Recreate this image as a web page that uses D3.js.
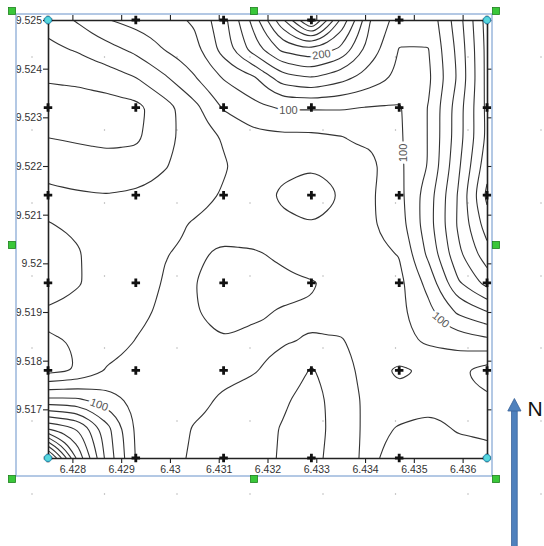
<!DOCTYPE html>
<html>
<head>
<meta charset="utf-8">
<script src="https://cdn.jsdelivr.net/npm/d3@7"></script>
<style>
  body { margin: 0; background: #fff; }
  svg { display: block; }
</style>
</head>
<body>
<div id="chart"></div>
<script>
// Grid nodes (easting / northing) of the gridded surface
const gridX = [6.4275, 6.4281, 6.4287, 6.4293, 6.4299, 6.4305, 6.4311, 6.4317,
               6.4323, 6.4329, 6.4335, 6.4341, 6.4347, 6.4353, 6.4359, 6.4365];
const gridY = [9.5250, 9.5244, 9.5238, 9.5232, 9.5226, 9.5220, 9.5214, 9.5208,
               9.5202, 9.5196, 9.5190, 9.5184, 9.5178, 9.5172, 9.5166, 9.5160];

// Surface values, one row per northing (top row first)
const gridValues = [
  [48, 62, 79, 87, 92, 103, 133, 186, 255, 330, 237, 161, 130, 126, 170, 228],
  [35, 42, 53, 65, 81, 93, 128, 168, 205, 217, 196, 151, 119, 119.5, 165, 226],
  [22, 24, 29, 39, 57, 78, 101, 115, 150, 159, 146, 130, 115, 116, 162, 226],
  [10, 10, 11, 14, 32, 54, 82, 94, 102, 102, 102, 99, 98, 121, 170, 225],
  [19.5, 17, 15, 16, 35, 48, 62, 74, 76, 76, 79.5, 84, 97, 121, 170, 224],
  [34, 30, 27, 29, 39, 48, 58, 70, 75, 78.5, 76, 74, 96, 121, 175, 232],
  [44, 42, 40.5, 43, 46, 52, 62, 70, 83, 88, 79.5, 77, 94, 131, 181, 245],
  [39.5, 42, 44, 48, 54, 62, 68, 70, 76, 79.5, 76, 77, 91, 132, 182, 230],
  [34, 39, 46, 53, 59.5, 63, 57, 58, 63, 72, 72, 74, 81, 125, 175, 212],
  [33, 39, 45, 54, 61, 60.5, 52, 54, 56, 58.5, 66, 70, 74, 107, 157, 187],
  [42, 44, 49, 56, 63, 61, 55, 58, 61, 62, 67, 72, 75, 94, 123, 139],
  [39, 40.6, 52, 60.5, 66, 64, 61, 63, 61, 59, 58.5, 68, 74, 83, 88, 94],
  [33, 41, 61.5, 66, 68, 66, 64, 61, 56, 38, 53, 67, 57, 63, 64, 52],
  [104, 103, 89, 74, 68, 64, 58, 55, 44, 30, 52, 64, 66, 65, 64, 63],
  [199, 182, 128, 77, 67, 59, 56, 50, 38.5, 28, 52, 64, 59, 56, 61, 62],
  [335, 215, 134, 79, 65, 58, 55, 48, 38, 30, 55, 63, 54, 52, 55, 57]
];

// Contour levels (interval 20)
const levels = [20, 40, 60, 80, 100, 120, 140, 160, 180, 200, 220, 240, 260, 280, 300, 320];

// Sample locations (+)
const sampleX = [6.4275, 6.4293, 6.4311, 6.4329, 6.4347, 6.4365];
const sampleY = [9.5250, 9.5232, 9.5214, 9.5196, 9.5178, 9.5160];

// Tick labels
const xTicks = [6.428, 6.429, 6.430, 6.431, 6.432, 6.433, 6.434, 6.435, 6.436];
const yTicks = [9.517, 9.518, 9.519, 9.520, 9.521, 9.522, 9.523, 9.524, 9.525];

// Where the contour labels sit
const contourLabels = [
  { level: 200, at: [6.43313, 9.52422], angle: -8 },
  { level: 100, at: [6.43243, 9.52315], angle: 0 },
  { level: 100, at: [6.43477, 9.52227], angle: -90 },
  { level: 100, at: [6.43560, 9.51888], angle: 40 },
  { level: 100, at: [6.42851, 9.51701], angle: 20 }
];

const width = 544;
const height = 546;
const plot = { left: 48, right: 487, top: 20, bottom: 458 };

const svg = d3.select("#chart")
    .append("svg")
    .attr("width", width)
    .attr("height", height);

svg.append("rect")
    .attr("width", width)
    .attr("height", height)
    .attr("fill", "white");

// page grid dots (slide background)
const dotCols = [32, 104.5, 177, 250, 323, 395.5, 468, 541];
const dotRows = [57, 130, 203, 276, 348, 421, 494];
const dots = svg.append("g");
dotCols.forEach(cx => dotRows.forEach(cy => {
    dots.append("rect")
        .attr("x", cx - 0.6).attr("y", cy - 0.6)
        .attr("width", 1.2).attr("height", 1.2)
        .attr("fill", "#a8a8a8");
}));

// Scales
const x = d3.scaleLinear().domain([6.4275, 6.4365]).range([plot.left, plot.right]);
const y = d3.scaleLinear().domain([9.516, 9.525]).range([plot.bottom, plot.top]);

const n = gridX.length, m = gridY.length;
const colToX = d3.scaleLinear().domain([0.5, n - 0.5]).range([gridX[0], gridX[n - 1]]);
const rowToY = d3.scaleLinear().domain([0.5, m - 0.5]).range([gridY[0], gridY[m - 1]]);
const toPx = p => [x(colToX(p[0])), y(rowToY(p[1]))];
const onBorder = p => p[0] < 0.25 || p[0] > n - 0.25 || p[1] < 0.25 || p[1] > m - 0.25;
const clamp = (v, lo, hi) => Math.max(lo, Math.min(hi, v));

// Add the mid-cell point of the bilinear isoline between two marching-squares vertices
function refine(pts, level, closed) {
    const out = [];
    const segs = closed ? pts.length : pts.length - 1;
    for (let k = 0; k < segs; k++) {
        const p = pts[k], q = pts[(k + 1) % pts.length];
        out.push(p);
        const i = clamp(Math.floor((p[0] + q[0]) / 2 - 0.5), 0, n - 2);
        const j = clamp(Math.floor((p[1] + q[1]) / 2 - 0.5), 0, m - 2);
        const a = gridValues[j][i], b = gridValues[j][i + 1];
        const c = gridValues[j + 1][i], d = gridValues[j + 1][i + 1];
        const dx = q[0] - p[0], dy = q[1] - p[1];
        const len = Math.hypot(dx, dy);
        if (len < 0.05) continue;
        const nx = -dy / len, ny = dx / len;
        let u = p[0] + dx / 2, v = p[1] + dy / 2;
        for (let it = 0; it < 5; it++) {
            const s = u - 0.5 - i, t = v - 0.5 - j;
            const f = a * (1 - s) * (1 - t) + b * s * (1 - t) + c * (1 - s) * t + d * s * t;
            const fu = (b - a) * (1 - t) + (d - c) * t;
            const fv = (c - a) * (1 - s) + (d - b) * s;
            const g = fu * nx + fv * ny;
            if (Math.abs(g) < 1e-9) break;
            const step = clamp((level - f) / g, -0.4, 0.4);
            u += step * nx; v += step * ny;
        }
        out.push([u, v]);
    }
    if (!closed) out.push(pts[pts.length - 1]);
    return out;
}

// drop vertices that sit almost on top of the previous one
function thin(pts, closed) {
    const out = [];
    pts.forEach((p, i) => {
        const last = out[out.length - 1];
        const isEnd = !closed && i === pts.length - 1;
        if (!last || Math.hypot(p[0] - last[0], p[1] - last[1]) > 1.5) out.push(p);
        else if (isEnd) out[out.length - 1] = p;
    });
    return out;
}

// Contour bands -> isolines (drop the parts that run along the grid border)
const bands = d3.contours().size([n, m]).thresholds(levels)(gridValues.flat());
const isolines = [];
bands.forEach(band => {
    band.coordinates.forEach(polygon => polygon.forEach(ring => {
        const pts = ring.slice(0, -1);
        const start = pts.findIndex(onBorder);
        if (start < 0) {
            const line = refine(pts, band.value, true).map(toPx);
            isolines.push({ value: band.value, closed: true, points: thin(line, true) });
            return;
        }
        let run = [];
        for (let k = 0; k <= pts.length; k++) {
            const p = pts[(start + k) % pts.length];
            if (onBorder(p)) {
                if (run.length > 1) {
                    const line = refine(run, band.value, false).map(toPx);
                    isolines.push({ value: band.value, closed: false, points: thin(line, false) });
                }
                run = [];
            } else {
                run.push(p);
            }
        }
    }));
});

svg.append("clipPath").attr("id", "plotClip")
    .append("rect")
    .attr("x", plot.left).attr("y", plot.top)
    .attr("width", plot.right - plot.left).attr("height", plot.bottom - plot.top);

const smoothOpen = d3.line().curve(d3.curveBasis);
const smoothClosed = d3.line().curve(d3.curveBasisClosed);

svg.append("g")
    .attr("clip-path", "url(#plotClip)")
    .selectAll("path")
    .data(isolines)
    .join("path")
    .attr("d", d => d.closed ? smoothClosed(d.points) : smoothOpen(d.points))
    .attr("fill", "none")
    .attr("stroke", "#333")
    .attr("stroke-width", 1.1);

// Contour labels, snapped onto their line
function nearestOnLevel(level, target) {
    let best = null, bestD = Infinity;
    isolines.filter(l => l.value === level).forEach(l => {
        const pts = l.closed ? l.points.concat([l.points[0]]) : l.points;
        for (let i = 0; i < pts.length - 1; i++) {
            const a = pts[i], b = pts[i + 1];
            const vx = b[0] - a[0], vy = b[1] - a[1];
            const len2 = vx * vx + vy * vy || 1;
            let t = ((target[0] - a[0]) * vx + (target[1] - a[1]) * vy) / len2;
            t = Math.max(0, Math.min(1, t));
            const px = a[0] + t * vx, py = a[1] + t * vy;
            const d = (px - target[0]) ** 2 + (py - target[1]) ** 2;
            if (d < bestD) { bestD = d; best = [px, py]; }
        }
    });
    return best || target;
}

svg.append("g")
    .selectAll("text")
    .data(contourLabels)
    .join("text")
    .attr("transform", d => {
        const p = nearestOnLevel(d.level, [x(d.at[0]), y(d.at[1])]);
        return `translate(${p[0]},${p[1]}) rotate(${d.angle})`;
    })
    .attr("text-anchor", "middle")
    .attr("dy", "0.35em")
    .attr("font-family", "'Liberation Sans', Arial, sans-serif")
    .attr("font-size", "11px")
    .attr("fill", "#555")
    .attr("stroke", "white")
    .attr("stroke-width", 5)
    .attr("paint-order", "stroke")
    .text(d => d.level);

// Axes
const fmt = d => String(+d.toFixed(3));

const axisBottom = svg.append("g")
    .attr("transform", `translate(0,${plot.bottom})`)
    .call(d3.axisBottom(x).tickValues(xTicks).tickFormat(fmt).tickSize(5).tickSizeOuter(0).tickPadding(3));
const axisLeft = svg.append("g")
    .attr("transform", `translate(${plot.left},0)`)
    .call(d3.axisLeft(y).tickValues(yTicks).tickFormat(fmt).tickSize(5).tickSizeOuter(0).tickPadding(1));
const axisTop = svg.append("g")
    .attr("transform", `translate(0,${plot.top})`)
    .call(d3.axisTop(x).tickValues(xTicks).tickFormat("").tickSize(5).tickSizeOuter(0));
const axisRight = svg.append("g")
    .attr("transform", `translate(${plot.right},0)`)
    .call(d3.axisRight(y).tickValues(yTicks).tickFormat("").tickSize(5).tickSizeOuter(0));

[axisBottom, axisLeft, axisTop, axisRight].forEach(a => {
    a.select(".domain").attr("stroke", "#222").attr("stroke-width", 1.6);
    a.selectAll(".tick line").attr("stroke", "#222").attr("stroke-width", 1.1);
    a.selectAll(".tick text")
        .attr("fill", "#333")
        .style("font-family", "'Liberation Sans', Arial, sans-serif")
        .style("font-size", "10.5px");
});

// Sample points
const cross = d3.symbol(d3.symbolCross, 40);
const samples = [];
sampleY.forEach(sy => sampleX.forEach(sx => samples.push([sx, sy])));
svg.append("g")
    .selectAll("path")
    .data(samples)
    .join("path")
    .attr("d", cross)
    .attr("transform", d => `translate(${x(d[0])},${y(d[1])})`)
    .attr("fill", "#111");

// Selection frame and handles
svg.append("rect")
    .attr("x", 16).attr("y", 14)
    .attr("width", 476).attr("height", 462)
    .attr("fill", "none")
    .attr("stroke", "#9ab7dc")
    .attr("stroke-width", 1.5);

const handles = [[12, 11], [254, 11], [496, 11], [12, 245], [496, 245], [12, 479], [254, 479], [496, 479]];
svg.append("g")
    .selectAll("rect")
    .data(handles)
    .join("rect")
    .attr("x", d => d[0] - 3.5).attr("y", d => d[1] - 3.5)
    .attr("width", 7).attr("height", 7)
    .attr("fill", "#39c739")
    .attr("stroke", "#1d7f1d")
    .attr("stroke-width", 0.8);

const corners = [[plot.left, plot.top], [plot.right, plot.top], [plot.left, plot.bottom], [plot.right, plot.bottom]];
svg.append("g")
    .selectAll("circle")
    .data(corners)
    .join("circle")
    .attr("cx", d => d[0]).attr("cy", d => d[1])
    .attr("r", 3.6)
    .attr("fill", "#56d8de")
    .attr("stroke", "#2b8fb3")
    .attr("stroke-width", 1);

// North arrow
const arrow = svg.append("g");
arrow.append("rect")
    .attr("x", 511.6).attr("y", 410)
    .attr("width", 5.6).attr("height", 150)
    .attr("fill", "#4f81bd")
    .attr("stroke", "#3a6399")
    .attr("stroke-width", 0.8);
arrow.append("path")
    .attr("d", "M507.8,411 L514.4,398.5 L521,411 Z")
    .attr("fill", "#4f81bd")
    .attr("stroke", "#3a6399")
    .attr("stroke-width", 0.8);
arrow.append("text")
    .attr("x", 527.5).attr("y", 415.5)
    .attr("font-family", "'Liberation Sans', Arial, sans-serif")
    .attr("font-size", "21px")
    .attr("fill", "#111")
    .text("N");
</script>
</body>
</html>
